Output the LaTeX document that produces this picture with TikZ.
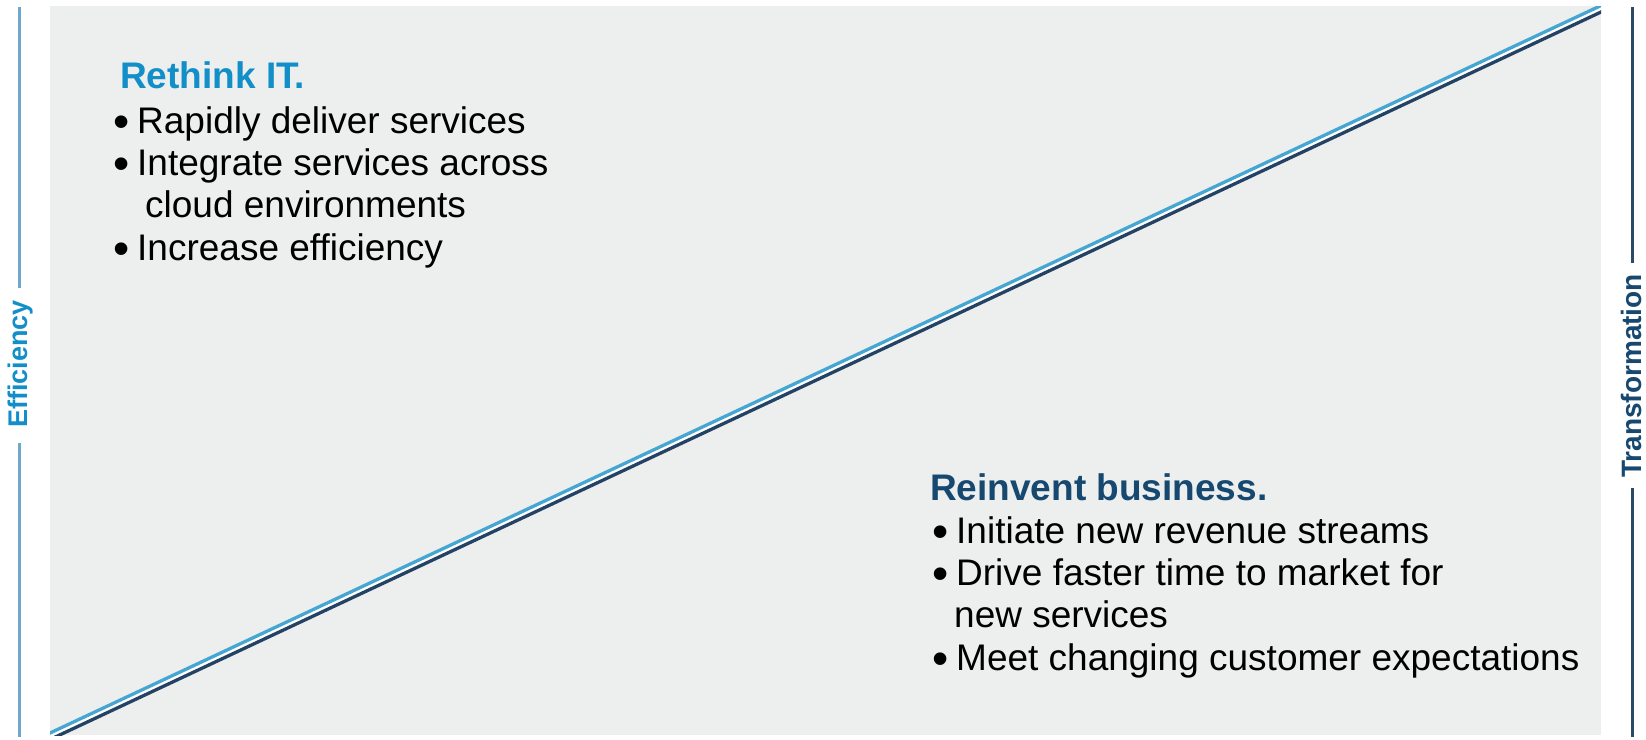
\documentclass[tikz,border=0pt]{standalone}
\usepackage{fontspec}
\setmainfont{Liberation Sans}
\definecolor{panelgray}{RGB}{236,239,238}
\definecolor{litblue}{RGB}{70,166,210}
\definecolor{diagnavy}{RGB}{36,66,100}
\definecolor{titleblue}{RGB}{18,142,200}
\definecolor{titlenavy}{RGB}{22,72,112}
\definecolor{sideblue}{RGB}{110,168,204}
\definecolor{sidenavy}{RGB}{44,74,104}
\newcommand\bigbul{\makebox[24pt][l]{\raisebox{-0.13em}{\scalebox{1.25}{•}}}}
\tikzset{
  bodytext/.style={anchor=base west, inner sep=0pt, text=black,
    font=\fontsize{37}{42}\selectfont},
  headtext/.style={anchor=base west, inner sep=0pt,
    font=\bfseries\fontsize{37}{42}\selectfont},
  sidelabel/.style={inner sep=0pt, rotate=90},
  sideline/.style={line width=3pt},
}
\begin{document}
\begin{tikzpicture}[x=1pt,y=-1pt]
\useasboundingbox (0,0) rectangle (1646,739);
\fill[white] (0,0) rectangle (1646,739);
% panel
\coordinate (pnw) at (50,6);
\coordinate (pse) at (1601,735);
\fill[panelgray] (pnw) rectangle (pse);
% diagonal double line
\coordinate (la) at (-27.5,769.35);
\coordinate (lb) at (1677.5,-30.35);
\begin{scope}
  \clip (pnw) rectangle (pse);
  \draw[white, line width=9pt] ([yshift=-3.25pt]la) -- ([yshift=-3.25pt]lb);
  \draw[litblue, line width=3.3pt] (la) -- (lb);
  \draw[diagnavy, line width=3.3pt] ([yshift=-6.5pt]la) -- ([yshift=-6.5pt]lb);
\end{scope}
% left side
\node[sidelabel, text=titleblue, font=\bfseries\fontsize{27}{30}\selectfont] (eff) at (21,364) {Efficiency};
\coordinate (l1) at (19,7);
\coordinate (l2) at (19,288);
\coordinate (l3) at (19,443);
\coordinate (l4) at (19,737);
\draw[sideline, sideblue] (l1) -- (l2);
\draw[sideline, sideblue] (l3) -- (l4);
% right side
\node[sidelabel, text=titlenavy, font=\bfseries\fontsize{28}{31}\selectfont] (trans) at (1631,376) {Transformation};
\coordinate (r1) at (1632,7);
\coordinate (r2) at (1632,263);
\coordinate (r3) at (1632,488);
\coordinate (r4) at (1632,737);
\draw[sideline, sidenavy] (r1) -- (r2);
\draw[sideline, sidenavy] (r3) -- (r4);
% upper text block
\node[headtext, text=titleblue] (t1) at (120,88) {Rethink IT.};
\node[bodytext] (a1) at (113,133) {\bigbul Rapidly deliver services};
\node[bodytext] (a2) at (113,175) {\bigbul Integrate services across};
\node[bodytext] (a3) at (145,217) {cloud environments};
\node[bodytext] (a4) at (113,260) {\bigbul Increase efficiency};
% lower text block
\node[headtext, text=titlenavy] (t2) at (930,500) {Reinvent business.};
\node[bodytext] (b1) at (932,543) {\bigbul Initiate new revenue streams};
\node[bodytext] (b2) at (932,585) {\bigbul Drive faster time to market for};
\node[bodytext] (b3) at (954,627) {new services};
\node[bodytext] (b4) at (932,670) {\bigbul Meet changing customer expectations};
\end{tikzpicture}
\end{document}
